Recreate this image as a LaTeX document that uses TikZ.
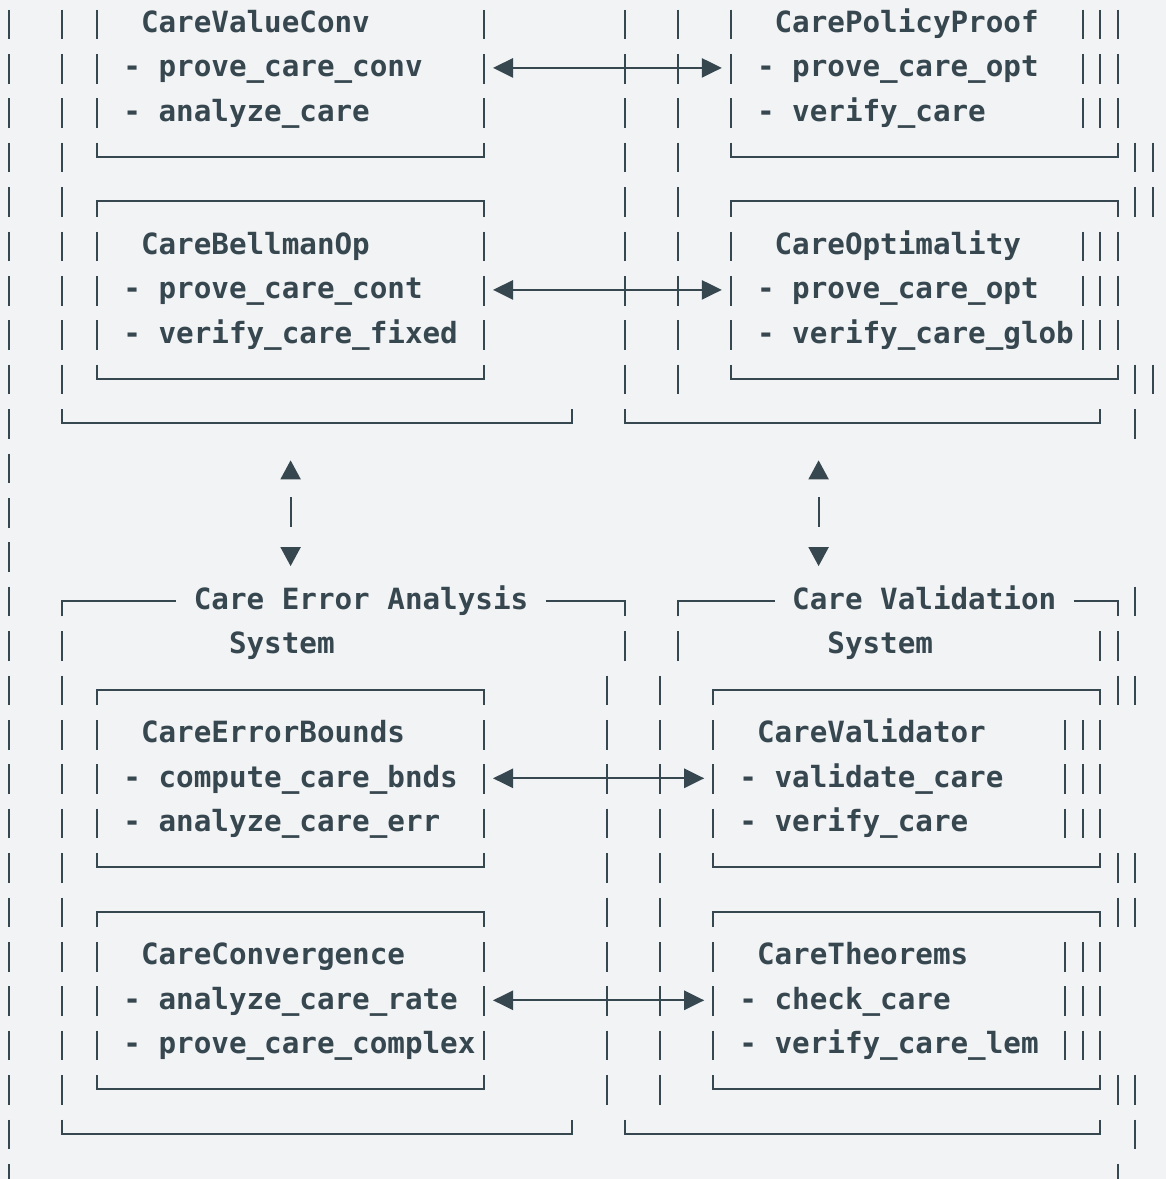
\documentclass[tikz,border=0pt]{standalone}
\usepackage{fontspec}
\newfontfamily\codefont{DejaVu Sans Mono}
\usetikzlibrary{arrows.meta}
\definecolor{ink}{HTML}{37474F}
\definecolor{bgc}{HTML}{F2F3F5}
% grid: column centre x and row baseline y, in px
\newcommand\CX[1]{(9+17.6*(#1))}
\newcommand\BY[1]{(32.3+44.4*(#1))}
\tikzset{
  ln/.style={draw=ink, line width=0.95pt},
  txt/.style={inner sep=0pt, outer sep=0pt, anchor=base west, text=ink,
    font=\codefont\bfseries\fontsize{14.62pt}{17pt}\selectfont},
  harrow/.style={ln, {Triangle[length=10pt,width=9.6pt]}-{Triangle[length=10pt,width=9.6pt]}},
  varrow/.style={ln, {Triangle[length=9.5pt,width=10pt]}-{Triangle[length=9.5pt,width=10pt]},
    dash pattern=on 14.8pt off 40pt, dash phase=45.5pt}
}
\newcommand\vbar[2]{\draw[ln] ({\CX{#1}},{\BY{#2}-22.8}) -- ({\CX{#1}},{\BY{#2}+6.8});}
\newcommand\boxtop[3]{\draw[ln] ({\CX{#1}},{\BY{#3}+6.8}) -- ({\CX{#1}},{\BY{#3}-8.5}) -- ({\CX{#2}},{\BY{#3}-8.5}) -- ({\CX{#2}},{\BY{#3}+6.8});}
\newcommand\boxbot[3]{\draw[ln] ({\CX{#1}},{\BY{#3}-22.8}) -- ({\CX{#1}},{\BY{#3}-8.5}) -- ({\CX{#2}},{\BY{#3}-8.5}) -- ({\CX{#2}},{\BY{#3}-22.8});}
\newcommand\txtat[4]{\node[txt] (#1) at ({\CX{#2}-8.8},{\BY{#3}}) {#4};}
\begin{document}
\begin{tikzpicture}[x=0.5pt,y=-0.5pt]
\useasboundingbox (0,0) rectangle (1166,1179);
\fill[bgc] (0,0) rectangle (1166,1179);
\clip (0,0) rectangle (1166,1179);
% ---------- vertical bars ----------
\foreach \r in {0,...,26} {\vbar{0}{\r}}
\foreach \r in {0,...,8,14,15,...,24} {\vbar{3}{\r}}
\foreach \c in {5,27} {\foreach \r in {0,1,2,5,6,7,16,17,18,21,22,23} {\vbar{\c}{\r}}}
\foreach \c in {35,38} {\foreach \r in {0,...,8} {\vbar{\c}{\r}}}
\foreach \c in {41,61,62,63} {\foreach \r in {0,1,2,5,6,7} {\vbar{\c}{\r}}}
\foreach \c in {64,65} {\foreach \r in {3,4,8} {\vbar{\c}{\r}}}
\foreach \r in {9,13,25} {\vbar{64}{\r}}
\foreach \c in {35,38,62,63} {\vbar{\c}{14}}
\foreach \c in {34,37} {\foreach \r in {15,...,24} {\vbar{\c}{\r}}}
\foreach \c in {40,60,61,62} {\foreach \r in {16,17,18,21,22,23} {\vbar{\c}{\r}}}
\foreach \c in {63,64} {\foreach \r in {15,19,20,24} {\vbar{\c}{\r}}}
\vbar{63}{26}
% ---------- box tops and bottoms ----------
\boxbot{5}{27}{3}  \boxtop{5}{27}{4}  \boxbot{5}{27}{8}
\boxbot{41}{63}{3} \boxtop{41}{63}{4} \boxbot{41}{63}{8}
\boxbot{3}{32}{9}  \boxbot{35}{62}{9}
\boxtop{5}{27}{15} \boxbot{5}{27}{19} \boxtop{5}{27}{20} \boxbot{5}{27}{24}
\boxtop{40}{62}{15} \boxbot{40}{62}{19} \boxtop{40}{62}{20} \boxbot{40}{62}{24}
\boxbot{3}{32}{25} \boxbot{35}{62}{25}
% titled tops (row 13)
\draw[ln] ({\CX{3}},{\BY{13}+6.8}) -- ({\CX{3}},{\BY{13}-8.5}) -- ({\CX{9}+8.8},{\BY{13}-8.5});
\draw[ln] ({\CX{31}-8.8},{\BY{13}-8.5}) -- ({\CX{35}},{\BY{13}-8.5}) -- ({\CX{35}},{\BY{13}+6.8});
\draw[ln] ({\CX{38}},{\BY{13}+6.8}) -- ({\CX{38}},{\BY{13}-8.5}) -- ({\CX{43}+8.8},{\BY{13}-8.5});
\draw[ln] ({\CX{61}-8.8},{\BY{13}-8.5}) -- ({\CX{63}},{\BY{13}-8.5}) -- ({\CX{63}},{\BY{13}+6.8});
% ---------- texts ----------
\txtat{t0a}{8}{0}{CareValueConv}
\txtat{t0b}{44}{0}{CarePolicyProof}
\txtat{t1a}{7}{1}{- prove\_care\_conv}
\txtat{t1b}{43}{1}{- prove\_care\_opt}
\txtat{t2a}{7}{2}{- analyze\_care}
\txtat{t2b}{43}{2}{- verify\_care}
\txtat{t5a}{8}{5}{CareBellmanOp}
\txtat{t5b}{44}{5}{CareOptimality}
\txtat{t6a}{7}{6}{- prove\_care\_cont}
\txtat{t6b}{43}{6}{- prove\_care\_opt}
\txtat{t7a}{7}{7}{- verify\_care\_fixed}
\txtat{t7b}{43}{7}{- verify\_care\_glob}
\txtat{t13a}{11}{13}{Care Error Analysis}
\txtat{t13b}{45}{13}{Care Validation}
\txtat{t14a}{13}{14}{System}
\txtat{t14b}{47}{14}{System}
\txtat{t16a}{8}{16}{CareErrorBounds}
\txtat{t16b}{43}{16}{CareValidator}
\txtat{t17a}{7}{17}{- compute\_care\_bnds}
\txtat{t17b}{42}{17}{- validate\_care}
\txtat{t18a}{7}{18}{- analyze\_care\_err}
\txtat{t18b}{42}{18}{- verify\_care}
\txtat{t21a}{8}{21}{CareConvergence}
\txtat{t21b}{43}{21}{CareTheorems}
\txtat{t22a}{7}{22}{- analyze\_care\_rate}
\txtat{t22b}{42}{22}{- check\_care}
\txtat{t23a}{7}{23}{- prove\_care\_complex}
\txtat{t23b}{42}{23}{- verify\_care\_lem}
% ---------- horizontal two-way arrows ----------
\coordinate (h1l) at ({\CX{28}-8.8},{\BY{1}-8.8});
\coordinate (h1r) at ({\CX{40}+8.8},{\BY{1}-8.8});
\coordinate (h6l) at ({\CX{28}-8.8},{\BY{6}-8.8});
\coordinate (h6r) at ({\CX{40}+8.8},{\BY{6}-8.8});
\coordinate (h17l) at ({\CX{28}-8.8},{\BY{17}-8.8});
\coordinate (h17r) at ({\CX{39}+8.8},{\BY{17}-8.8});
\coordinate (h22l) at ({\CX{28}-8.8},{\BY{22}-8.8});
\coordinate (h22r) at ({\CX{39}+8.8},{\BY{22}-8.8});
\draw[harrow] (h1l) -- (h1r);
\draw[harrow] (h6l) -- (h6r);
\draw[harrow] (h17l) -- (h17r);
\draw[harrow] (h22l) -- (h22r);
% ---------- vertical two-way arrows ----------
\coordinate (v1t) at ({\CX{16}},{\BY{10}-16});
\coordinate (v1b) at ({\CX{16}},{\BY{12}+1});
\coordinate (v2t) at ({\CX{46}},{\BY{10}-16});
\coordinate (v2b) at ({\CX{46}},{\BY{12}+1});
\draw[varrow] (v1t) -- (v1b);
\draw[varrow] (v2t) -- (v2b);
\end{tikzpicture}
\end{document}
